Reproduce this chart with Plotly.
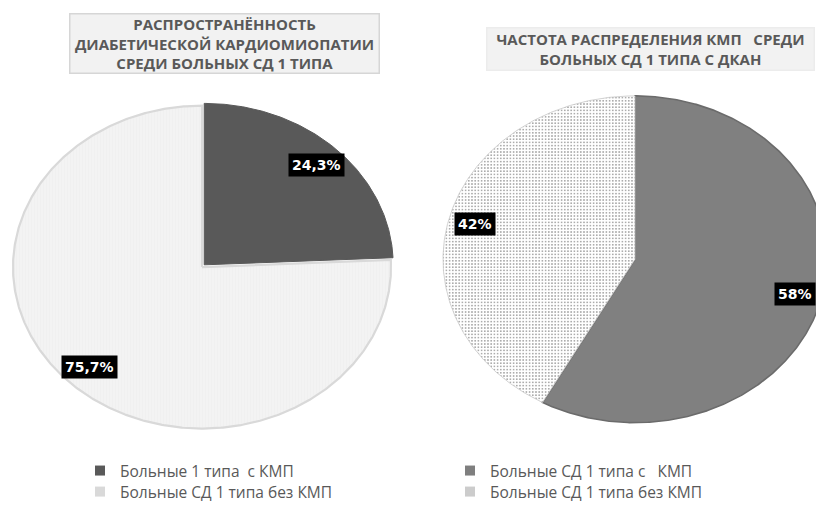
import numpy as np
import plotly.graph_objects as go

# --- data -------------------------------------------------------------
left_title = "РАСПРОСТРАНЁННОСТЬ<br>ДИАБЕТИЧЕСКОЙ КАРДИОМИОПАТИИ<br>СРЕДИ БОЛЬНЫХ СД 1 ТИПА"
left_labels = ["Больные 1 типа  с КМП", "Больные СД 1 типа без КМП"]
left_values = [24.3, 75.7]

right_title = "ЧАСТОТА РАСПРЕДЕЛЕНИЯ КМП   СРЕДИ<br>БОЛЬНЫХ СД 1 ТИПА С ДКАН"
right_labels = ["Больные СД 1 типа с   КМП", "Больные СД 1 типа без КМП"]
right_values = [58, 42]

# --- geometry / styling ----------------------------------------------
W, H = 816, 509
LEFT_PIE = dict(cx=202, cy=273, rx=189, ry=165, explode=[3.2, 0],
                legend_x=80, legends=["legend", "legend2"])
RIGHT_PIE = dict(cx=635, cy=265, rx=192, ry=167, explode=[0, 0],
                 legend_x=450, legends=["legend3", "legend4"])
LEGEND_TOPS = [464, 485.5]

left_styles = [
    dict(fillcolor="#595959", line=dict(color="#595959", width=1),
         fillpattern=None, legend_color="#595959"),
    dict(fillcolor="#f2f2f2", line=dict(color="#d9d9d9", width=2.2),
         fillpattern=dict(shape="|", bgcolor="#f3f3f3", fgcolor="#e6e6e6",
                          size=3, solidity=0.2),
         legend_color="#d9d9d9"),
]
right_styles = [
    dict(fillcolor="#808080", line=dict(color="#6b6b6b", width=1.6),
         fillpattern=None, legend_color="#7f7f7f"),
    dict(fillcolor="#ffffff", line=dict(color="#c8c8c8", width=0.8),
         fillpattern=dict(shape=".", bgcolor="#ffffff", fgcolor="#333333",
                          size=3.2, solidity=0.24),
         legend_color="#cccccc"),
]


def fmt_pct(v):
    if float(v).is_integer():
        return f"{int(v)}%"
    return f"{v:.1f}".replace(".", ",") + "%"


fig = go.Figure()


def add_pie(values, labels, styles, geo):
    total = float(sum(values))
    start = 0.0
    annotations = []
    for i, (v, lab, st) in enumerate(zip(values, labels, styles)):
        sweep = 360.0 * v / total
        a0, a1 = np.radians(start), np.radians(start + sweep)
        mid = (a0 + a1) / 2
        ex = geo["explode"][i]
        cx = geo["cx"] + ex * np.sin(mid)
        cy = geo["cy"] - ex * np.cos(mid)
        t = np.linspace(a0, a1, max(int(sweep * 2), 8))
        xs = np.concatenate([[cx], cx + geo["rx"] * np.sin(t), [cx]])
        ys = np.concatenate([[cy], cy - geo["ry"] * np.cos(t), [cy]])
        kw = dict(fill="toself", fillcolor=st["fillcolor"], line=st["line"])
        if st["fillpattern"]:
            kw["fillpattern"] = st["fillpattern"]
        fig.add_trace(go.Scatter(x=xs, y=ys, mode="lines", showlegend=False,
                                 hoverinfo="skip", **kw))
        # legend entry (one legend box per row so rows can be spaced freely)
        fig.add_trace(go.Scatter(
            x=[None], y=[None], mode="markers", name=lab,
            legend=geo["legends"][i],
            marker=dict(symbol="square", size=10, color=st["legend_color"],
                        line=dict(width=0))))
        # data label at ~86% of the radius along the slice bisector
        lx = cx + 0.86 * geo["rx"] * np.sin(mid)
        ly = cy - 0.86 * geo["ry"] * np.cos(mid)
        annotations.append(dict(
            x=lx, y=ly, xref="x", yref="y", text=f"<b>{fmt_pct(v)}</b>",
            showarrow=False, bgcolor="#000000", borderpad=3,
            font=dict(family="DejaVu Sans", size=14, color="#ffffff")))
        start += sweep
    return annotations


anns = []
anns += add_pie(left_values, left_labels, left_styles, LEFT_PIE)
anns += add_pie(right_values, right_labels, right_styles, RIGHT_PIE)

title_font = dict(family="Open Sans", size=15, color="#595959")
anns.append(dict(x=224, y=44, xref="x", yref="y", text=f"<b>{left_title}</b>",
                 showarrow=False, width=306, height=56, bgcolor="#f2f2f2",
                 bordercolor="#d6d6d6", borderwidth=1.5, borderpad=1,
                 font=title_font, align="center"))
anns.append(dict(x=650, y=50, xref="x", yref="y", text=f"<b>{right_title}</b>",
                 showarrow=False, width=324, height=39, bgcolor="#f2f2f2",
                 bordercolor="#ececec", borderwidth=1.5, borderpad=1,
                 font=title_font, align="center"))

legend_common = dict(font=dict(family="Open Sans", size=15.5, color="#595959"),
                     bgcolor="rgba(0,0,0,0)", itemwidth=30, tracegroupgap=0,
                     xanchor="left", yanchor="top", orientation="v")
legends = {}
for geo in (LEFT_PIE, RIGHT_PIE):
    for name, top in zip(geo["legends"], LEGEND_TOPS):
        legends[name] = dict(x=geo["legend_x"] / W, y=1 - top / H,
                             **legend_common)

fig.update_layout(
    width=W, height=H,
    margin=dict(l=0, r=0, t=0, b=0),
    paper_bgcolor="#ffffff", plot_bgcolor="#ffffff",
    xaxis=dict(range=[0, W], visible=False, fixedrange=True),
    yaxis=dict(range=[H, 0], visible=False, fixedrange=True),
    annotations=anns,
    showlegend=True,
    **legends,
)

fig.write_html("out.html")
